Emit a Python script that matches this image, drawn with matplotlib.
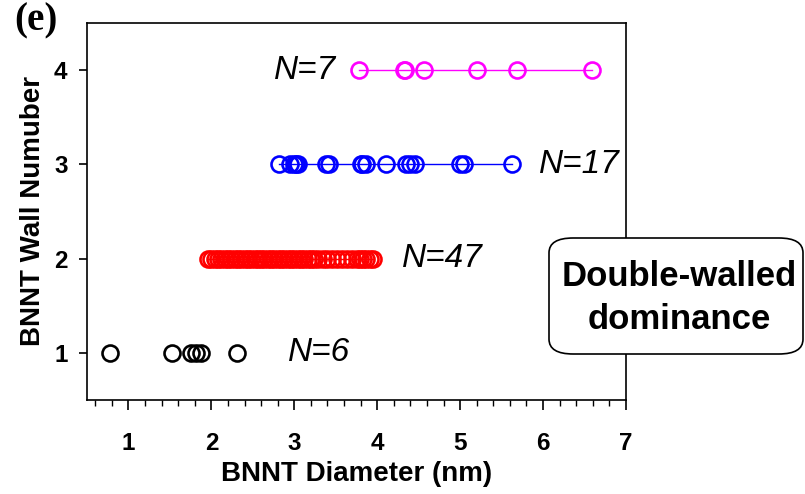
import matplotlib.pyplot as plt
from matplotlib.patches import FancyBboxPatch
from matplotlib.ticker import MultipleLocator

plt.rcParams['font.family'] = ['Liberation Sans', 'DejaVu Sans']

# ---- data ----
d_single = [0.78, 1.53, 1.75, 1.82, 1.88, 2.31]
d_double = [1.96, 2.00, 2.04, 2.08, 2.12, 2.16, 2.20, 2.24, 2.28, 2.32,
            2.36, 2.40, 2.44, 2.48, 2.52, 2.56, 2.60, 2.64, 2.68, 2.72,
            2.76, 2.80, 2.84, 2.88, 2.92, 2.96, 3.00, 3.04, 3.08, 3.12,
            3.16, 3.20, 3.24, 3.28, 3.34, 3.40, 3.46, 3.52, 3.58, 3.64,
            3.70, 3.75, 3.79, 3.83, 3.87, 3.91, 3.95]
d_triple = [2.82, 2.95, 3.00, 3.02, 3.05, 3.38, 3.42, 3.80, 3.82, 3.86,
            4.10, 4.35, 4.40, 4.45, 5.00, 5.05, 5.62]
d_quad = [3.78, 4.32, 4.34, 4.57, 5.20, 5.68, 6.59]

walls = [1, 2, 3, 4]
series = [d_single, d_double, d_triple, d_quad]
colors = ['black', 'red', 'blue', 'magenta']
n_labels = ["N=6", "N=47", "N=17", "N=7"]
label_x = [2.92, 4.30, 5.95, 2.76]

fig = plt.figure(figsize=(8.05, 4.94), dpi=100)
ax = fig.add_axes([87 / 805, 1 - 400 / 494, (626 - 87) / 805, (400 - 23) / 494])

for w, d, c, lab, lx in zip(walls, series, colors, n_labels, label_x):
    ls = 'none' if w == 1 else '-'
    ax.plot(d, [w] * len(d), linestyle=ls, color=c, lw=1.0, marker='o', ms=11.5,
            mfc='none', mec=c, mew=1.9)
    ax.text(lx, w, lab, fontsize=24, style='italic', va='center', ha='left')

ax.set_xlim(0.5, 7)
ax.set_ylim(0.5, 4.5)
ax.xaxis.set_major_locator(MultipleLocator(1))
ax.xaxis.set_minor_locator(MultipleLocator(0.2))
ax.set_yticks(walls)
ax.tick_params(axis='x', which='major', length=7, width=1.2, pad=16, labelsize=17.5)
ax.tick_params(axis='x', which='minor', length=4, width=1.0)
ax.tick_params(axis='y', which='major', length=6, width=1.2, pad=8, labelsize=17.5)
for t in ax.get_xticklabels() + ax.get_yticklabels():
    t.set_fontweight('bold')
for s in ax.spines.values():
    s.set_linewidth(1.2)

ax.set_xlabel("BNNT Diameter (nm)", fontsize=20, fontweight='bold', labelpad=4)
ax.set_ylabel("BNNT Wall Numuber", fontsize=20, fontweight='bold', labelpad=6)

# panel letter
fig.text(14 / 805, 1 - 21 / 494, "(e)", fontsize=28, fontweight='bold',
         family='Liberation Serif', va='center', ha='left')

# rounded annotation box
box = FancyBboxPatch((549 / 805, 1 - 354 / 494), (803 - 549) / 805, (354 - 238) / 494,
                     boxstyle="round,pad=0,rounding_size=0.03",
                     transform=fig.transFigure, facecolor='white', edgecolor='black',
                     lw=1.2, zorder=5)
fig.patches.append(box)
fig.text(679 / 805, 1 - 298 / 494, "Double-walled\ndominance", fontsize=25,
         fontweight='bold', ha='center', va='center', linespacing=1.35, zorder=6)

fig.savefig("out.png", dpi=100)
